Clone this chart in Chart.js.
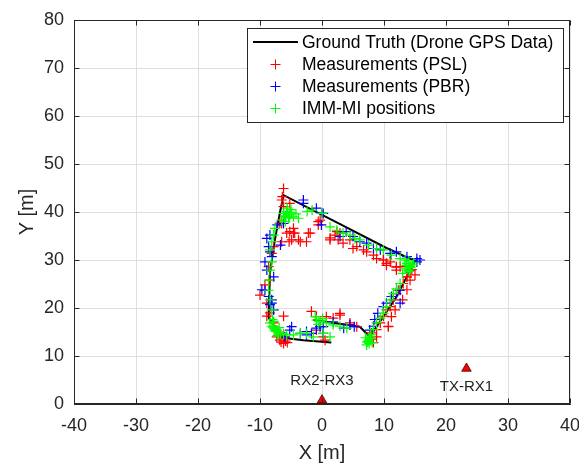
<!DOCTYPE html>
<html>
<head>
<meta charset="utf-8">
<script src="https://cdn.jsdelivr.net/npm/chart.js@4.4.1/dist/chart.umd.min.js"></script>
<style>
  html, body { margin: 0; padding: 0; background: #fff; }
  canvas { display: block; }
</style>
</head>
<body>
<canvas id="track" width="579" height="463"></canvas>
<script>
// Drone ground truth track
const truthX = [-1.4, 6.1, 7.7, 12.0, 15.0, 10.4, 3.0, -6.2, -6.8, -7.6, -8.4, -8.6, -6.3, -3.0, 1.5];
const truthY = [17.5, 16.1, 14.0, 22.3, 29.8, 32.5, 37.4, 43.5, 39.8, 34.2, 27.3, 18.0, 13.8, 13.3, 12.8];

// PSL measurements
const pslX = [-6.2, -6.5, -6.2, -5.9, -6.5, -5.2, -4.4, -4.9, -3.5, -2.5, -1.9, -0.3, -0.6, 1.3, 2.1, 2.4, 2.9, 4.5, 5.6, 7.2,
  8.8, 9.9, 10.4, 12.0, 12.0, 14.2, 13.7, 13.1, 12.3, 11.5, 11.0, 10.4, 9.9, 10.7, 9.4, 8.8, 8.0, 8.0, -1.7, -0.9,
  0.7, 1.8, 2.9, 4.5, 5.6, 0.2, 0.5, -0.9, -7.3, -6.8, -6.2, -7.8, -8.9, -8.4, -10.0, -8.1, -7.8, -8.6, -8.4, -9.2,
  -8.9, -7.8, -6.2, -5.7, -4.6, -5.2, -4.6, -2.2, -3.8, -5.3, -6.5, -6.8, -0.6, 1.3, -5.6, -6.0, -7.0, 13.7, 12.0, 11.0,
  2.6, 3.4, 5.0, 6.7, 8.3, 9.9, 15.0, 2.9, 4.5, 10.7, 12.6, 10.4, 8.8, 14.2, 13.7, 13.0, 11.8, 11.2, -6.6, -5.9,
  -7.1, -6.4, 14.5, 8.3];
const pslY = [44.9, 42.5, 41.1, 39.0, 37.6, 35.9, 35.6, 34.2, 33.8, 33.8, 35.6, 38.3, 37.3, 34.2, 35.2, 35.9, 35.6, 34.2, 32.8, 31.7,
  30.3, 30.0, 28.9, 28.5, 27.9, 27.9, 26.5, 25.1, 23.7, 21.7, 20.3, 19.6, 18.3, 16.2, 16.9, 15.5, 14.8, 13.5, 19.3, 18.2,
  18.2, 17.9, 18.5, 16.5, 16.1, 14.0, 13.3, 15.4, 14.0, 13.3, 12.6, 16.2, 18.3, 19.0, 22.7, 31.4, 32.8, 28.6, 25.8, 24.8,
  21.0, 16.9, 18.3, 35.6, 36.6, 41.8, 35.6, 35.6, 34.2, 33.8, 33.8, 37.7, 38.0, 34.6, 12.8, 13.8, 15.0, 26.5, 28.6, 29.6,
  34.2, 33.5, 32.4, 32.1, 31.0, 30.0, 26.9, 18.9, 16.9, 16.1, 28.6, 29.3, 14.0, 25.8, 23.8, 21.7, 19.6, 18.2, 12.9, 13.1,
  14.3, 43.2, 28.0, 12.8];

// PBR measurements
const pbrX = [-3.0, -0.9, 0.2, -0.1, -7.2, -8.4, -8.6, -6.7, -8.1, -8.9, -7.8, -9.2, -8.6, -8.1, -7.8, -5.2, -3.5, -2.5, -1.7, 3.5,
  5.2, 0.2, -0.9, 2.9, 3.9, 5.0, 6.1, 7.2, 8.3, 9.4, 11.0, 12.0, 13.7, 15.3, 15.8, 12.6, 12.0, 11.2, 10.4, 12.6,
  9.9, 9.0, 8.5, 8.3, -6.2, -8.9, -8.4, -9.2, -9.7, -8.1, -8.4, -3.0, 0.0, 15.3, -4.9, -2.5, -0.3, 0.2, 1.8, 4.5,
  7.7, -6.0];
const pbrY = [41.8, 40.8, 39.7, 37.3, 37.3, 35.2, 32.8, 33.1, 30.7, 27.9, 26.5, 23.7, 22.4, 21.0, 19.6, 15.4, 14.7, 14.4, 14.7, 15.8,
  16.1, 16.1, 15.8, 34.9, 35.9, 34.9, 33.8, 33.5, 32.4, 32.1, 31.4, 31.7, 30.7, 30.3, 30.0, 23.7, 23.0, 22.4, 21.0, 21.0,
  20.3, 18.9, 17.6, 16.2, 37.6, 34.5, 31.7, 29.6, 23.8, 21.7, 20.7, 42.5, 39.7, 29.6, 16.1, 15.1, 16.1, 14.7, 17.1, 16.5,
  15.4, 14.0];

// IMM-MI position estimates
const immX = [-6.2, -5.7, -5.2, -5.4, -6.0, -4.6, -3.8, -6.5, -7.6, -7.8, -8.1, -8.4, -8.1, -8.4, -8.6, -8.6, -8.4, -8.1, -7.8, -8.1,
  -7.3, -6.7, -2.4, -1.6, 0.0, 1.3, 2.4, 3.4, 4.5, 5.3, 6.1, 7.5, 8.8, 9.9, 11.2, 12.6, 13.4, 13.7, 14.2, 13.9,
  13.4, 12.6, 12.0, 11.5, 11.0, 10.4, 9.9, 9.4, 8.8, 8.3, 7.7, 7.4, 7.2, -1.1, -0.9, -0.3, 0.7, 1.8, 2.9, 4.0,
  0.2, 1.3, -8.4, -7.6, -7.0, -5.7, -4.6, -3.5, -2.5, -1.4, -5.0, -4.2, -5.9, 14.6, 14.0, 13.0, 7.8, 7.0, 8.1, -7.9,
  -7.2, -6.2, -5.6, -5.9, -5.3, -4.9, 14.3, 14.8, 13.6, 14.1, 7.5, 7.9, 7.3, 7.6, -7.7, -7.4, -6.9, -8.0, -0.6, 0.1];
const immY = [39.7, 40.1, 39.4, 38.7, 39.0, 39.0, 38.7, 38.3, 36.6, 35.2, 33.8, 32.1, 29.6, 27.9, 25.8, 23.7, 21.7, 19.6, 17.2, 16.2,
  15.4, 14.7, 40.1, 40.4, 39.7, 36.9, 36.2, 35.6, 35.2, 34.5, 34.2, 33.1, 32.4, 32.1, 31.0, 30.3, 30.0, 29.3, 28.6, 27.9,
  28.3, 25.1, 24.0, 23.0, 21.7, 20.3, 18.9, 17.9, 16.9, 15.5, 14.0, 13.0, 12.3, 18.2, 17.5, 17.2, 16.9, 16.5, 16.2, 15.8,
  14.7, 14.0, 16.9, 15.4, 14.7, 14.4, 14.4, 14.7, 14.7, 14.0, 40.5, 39.6, 38.0, 29.0, 29.8, 27.2, 13.6, 13.8, 12.8, 16.0,
  14.2, 14.6, 40.8, 39.2, 38.9, 39.9, 28.4, 29.4, 28.9, 27.6, 13.3, 14.4, 12.9, 12.6, 15.7, 15.1, 15.9, 17.6, 16.6, 17.8];

// Receiver / transmitter sites
const sensorX = [0, 23.3];
const sensorY = [0.8, 7.4];
const sensorNames = ['RX2-RX3', 'TX-RX1'];

const xTicks = [-40, -30, -20, -10, 0, 10, 20, 30, 40];
const yTicks = [0, 10, 20, 30, 40, 50, 60, 70, 80];

const legendItems = [
  { label: 'Ground Truth (Drone GPS Data)', color: '#000000', line: true },
  { label: 'Measurements (PSL)', color: '#ff0000' },
  { label: 'Measurements (PBR)', color: '#0000ff' },
  { label: 'IMM-MI positions', color: '#00ff00' },
];

const FONT = "'Liberation Sans', Arial, Helvetica, sans-serif";
const AXIS_COLOR = '#262626';

const toPoints = (xs, ys) => xs.map((x, i) => ({ x, y: ys[i] }));

function crossSeries(label, xs, ys, color, order) {
  return {
    label,
    data: toPoints(xs, ys),
    pointStyle: 'cross',
    pointRadius: 5,
    pointBorderWidth: 1.2,
    borderColor: color,
    backgroundColor: color,
    showLine: false,
    order,
  };
}

function drawCross(ctx, x, y, r) {
  ctx.beginPath();
  ctx.moveTo(x - r, y); ctx.lineTo(x + r, y);
  ctx.moveTo(x, y - r); ctx.lineTo(x, y + r);
  ctx.stroke();
}

// box, inward ticks, legend and site labels
const decorations = {
  id: 'decorations',
  afterDatasetsDraw(chart) {
    const { ctx, chartArea: a, scales: { x, y } } = chart;
    const L = Math.round(a.left) + 0.5, R = Math.round(a.right) - 0.5;
    const T = Math.round(a.top) + 0.5, B = Math.round(a.bottom) - 0.5;
    ctx.save();
    ctx.strokeStyle = AXIS_COLOR;
    ctx.lineWidth = 1;
    ctx.strokeRect(L, T, R - L, B - T);

    const tl = 5;
    ctx.beginPath();
    xTicks.forEach(v => {
      const px = Math.round(x.getPixelForValue(v)) + 0.5;
      ctx.moveTo(px, B); ctx.lineTo(px, B - tl);
      ctx.moveTo(px, T); ctx.lineTo(px, T + tl);
    });
    yTicks.forEach(v => {
      const py = Math.round(y.getPixelForValue(v)) + 0.5;
      ctx.moveTo(L, py); ctx.lineTo(L + tl, py);
      ctx.moveTo(R, py); ctx.lineTo(R - tl, py);
    });
    ctx.stroke();

    // site labels
    ctx.fillStyle = '#222';
    ctx.font = `15px ${FONT}`;
    ctx.textAlign = 'center';
    ctx.textBaseline = 'middle';
    const offsets = [-19, 18];
    sensorNames.forEach((name, i) => {
      const px = x.getPixelForValue(sensorX[i]);
      const py = y.getPixelForValue(sensorY[i]);
      ctx.fillText(name, px, py + offsets[i]);
    });

    // legend
    const box = { left: 247.5, top: 28.5, right: 563.5, bottom: 122.5 };
    ctx.fillStyle = '#fff';
    ctx.fillRect(box.left, box.top, box.right - box.left, box.bottom - box.top);
    ctx.strokeStyle = AXIS_COLOR;
    ctx.lineWidth = 1;
    ctx.strokeRect(box.left, box.top, box.right - box.left, box.bottom - box.top);

    ctx.font = `17.5px ${FONT}`;
    ctx.textAlign = 'left';
    ctx.textBaseline = 'middle';
    legendItems.forEach((item, i) => {
      const cy = 42 + i * 22;
      if (item.line) {
        ctx.strokeStyle = item.color;
        ctx.lineWidth = 2;
        ctx.beginPath();
        ctx.moveTo(253, cy); ctx.lineTo(298, cy);
        ctx.stroke();
      } else {
        ctx.strokeStyle = item.color;
        ctx.lineWidth = 1;
        drawCross(ctx, 275.5, cy + 0.5, 5);
      }
      ctx.fillStyle = '#000';
      ctx.fillText(item.label, 302, cy + 1);
    });
    ctx.restore();
  }
};

new Chart(document.getElementById('track'), {
  type: 'scatter',
  data: {
    datasets: [
      {
        label: 'Ground Truth (Drone GPS Data)',
        data: toPoints(truthX, truthY),
        showLine: true,
        borderColor: '#000000',
        borderWidth: 2,
        pointRadius: 0,
        tension: 0,
        order: 5,
      },
      crossSeries('Measurements (PSL)', pslX, pslY, '#ff0000', 4),
      crossSeries('Measurements (PBR)', pbrX, pbrY, '#0000ff', 3),
      crossSeries('IMM-MI positions', immX, immY, '#00ff00', 2),
      {
        label: 'Sites',
        data: toPoints(sensorX, sensorY),
        pointStyle: 'triangle',
        pointRadius: 5.5,
        backgroundColor: '#ff0000',
        borderColor: '#3a0000',
        pointBorderWidth: 0.8,
        showLine: false,
        clip: false,
        order: 1,
      },
    ],
  },
  options: {
    responsive: false,
    animation: false,
    layout: { padding: { top: 20, right: 9, left: 0, bottom: 0 } },
    plugins: {
      legend: { display: false },
      tooltip: { enabled: false },
    },
    scales: {
      x: {
        type: 'linear',
        min: -40,
        max: 40,
        afterBuildTicks: s => { s.ticks = xTicks.map(v => ({ value: v })); },
        afterFit: s => { s.height = 59; s.paddingLeft = 0; s.paddingRight = 0; },
        ticks: {
          color: AXIS_COLOR,
          font: { family: FONT, size: 18 },
          padding: 11,
          maxRotation: 0,
        },
        grid: { color: '#dfdfdf', drawTicks: false },
        border: { display: true, color: AXIS_COLOR },
        title: {
          display: true,
          text: 'X [m]',
          color: AXIS_COLOR,
          font: { family: FONT, size: 20, lineHeight: 1 },
          padding: { top: 0, bottom: 0 },
        },
      },
      y: {
        type: 'linear',
        min: 0,
        max: 80,
        afterBuildTicks: s => { s.ticks = yTicks.map(v => ({ value: v })); },
        afterFit: s => { s.width = 74; s.paddingTop = 0; s.paddingBottom = 0; },
        ticks: {
          color: AXIS_COLOR,
          font: { family: FONT, size: 18 },
          padding: 10,
        },
        grid: { color: '#dfdfdf', drawTicks: false },
        border: { display: true, color: AXIS_COLOR },
        title: {
          display: true,
          text: 'Y [m]',
          color: AXIS_COLOR,
          font: { family: FONT, size: 20, lineHeight: 1 },
          padding: { top: 17, bottom: 0 },
        },
      },
    },
  },
  plugins: [decorations],
});
</script>
</body>
</html>
